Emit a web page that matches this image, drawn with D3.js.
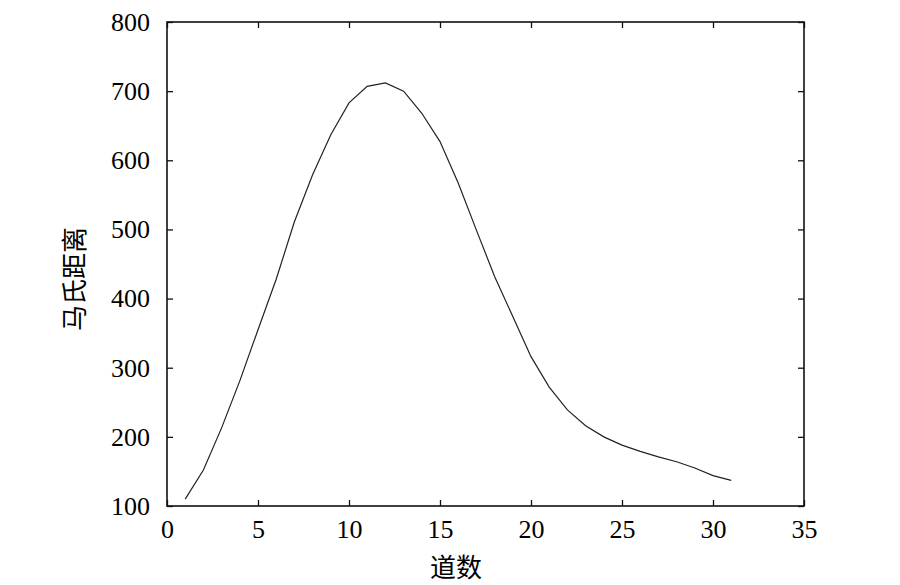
<!DOCTYPE html>
<html><head><meta charset="utf-8">
<script src="https://cdn.jsdelivr.net/npm/d3@7"></script>
<style>body{margin:0;background:#fff}svg{display:block}</style>
</head><body>
<svg id="c" width="900" height="585"></svg>
<script>
const xValues = [1,2,3,4,5,6,7,8,9,10,11,12,13,14,15,16,17,18,19,20,21,22,23,24,25,26,27,28,29,30,31];
const yValues = [110,152,213,281,355,428,511,579,637,683,707,712,700,668,627,567,499,432,374,316,272,239,216,200,188,179,171,164,155,144,137];
const xTicks = [0,5,10,15,20,25,30,35];
const yTicks = [100,200,300,400,500,600,700,800];
const xLabel = "道数";
const yLabel = "马氏距离";

const svg = d3.select("#c");
const L = 167, R = 804, T = 22, B = 506;
const x = d3.scaleLinear().domain([0,35]).range([L,R]);
const y = d3.scaleLinear().domain([100,800]).range([B,T]);
const serif = "'Liberation Serif','Times New Roman',serif";
const tl = 6;

// Inward ticks on all four sides
const gB = svg.append("g").attr("transform",`translate(0,${B})`)
  .call(d3.axisBottom(x).tickValues(xTicks).tickSizeInner(-tl).tickSizeOuter(0).tickPadding(14));
const gT = svg.append("g").attr("transform",`translate(0,${T})`)
  .call(d3.axisTop(x).tickValues(xTicks).tickSizeInner(-tl).tickSizeOuter(0).tickFormat(""));
const gL = svg.append("g").attr("transform",`translate(${L},0)`)
  .call(d3.axisLeft(y).tickValues(yTicks).tickSizeInner(-tl).tickSizeOuter(0).tickPadding(17));
const gR = svg.append("g").attr("transform",`translate(${R},0)`)
  .call(d3.axisRight(y).tickValues(yTicks).tickSizeInner(-tl).tickSizeOuter(0).tickFormat(""));
[gB,gT,gL,gR].forEach(g=>{
  g.select(".domain").remove();
  g.selectAll(".tick line").attr("stroke","#111").attr("stroke-width",1.3);
  g.selectAll("text").attr("fill","#000").style("font-family",serif).style("font-size","26px");
});
gB.selectAll("text").attr("dy","0.71em").attr("y", 14);

// frame
svg.append("rect").attr("x",L).attr("y",T).attr("width",R-L).attr("height",B-T)
  .attr("fill","none").attr("stroke","#111").attr("stroke-width",1.6);

// line
const line = d3.line().x((d,i)=>x(xValues[i])).y(d=>y(d));
svg.append("path").datum(yValues).attr("d",line)
  .attr("fill","none").attr("stroke","#222").attr("stroke-width",1.2);

// axis titles
svg.append("text").attr("x",456).attr("y",577).attr("text-anchor","middle")
  .style("font-family","'Noto Sans CJK SC',serif").style("font-size","26px").attr("fill","#000").text(xLabel);
svg.append("text").attr("transform","translate(84,279) rotate(-90)").attr("text-anchor","middle")
  .style("font-family","'Noto Sans CJK SC',serif").style("font-size","26px").attr("fill","#000").text(yLabel);
</script>
</body></html>
